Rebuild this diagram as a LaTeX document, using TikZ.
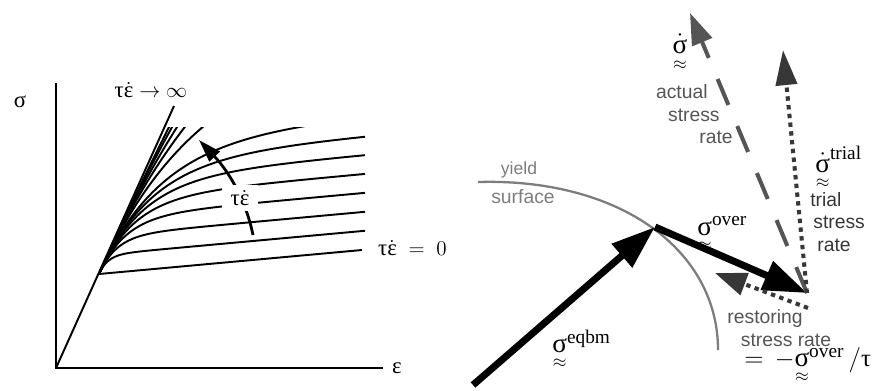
\documentclass[tikz,border=0pt]{standalone}
\usepackage{amsmath}
\usepackage{fontspec}
\setmainfont{Liberation Serif}
\setsansfont{Liberation Sans}
\usepackage{tikz}
\usetikzlibrary{arrows.meta, calc}
\definecolor{surfgray}{RGB}{125, 125, 125}
\definecolor{rategray}{RGB}{85, 85, 85}
\definecolor{trialgray}{RGB}{55, 55, 55}

\newcommand{\bigsig}{\mbox{\fontsize{15.5}{17}\selectfont σ}}
\newcommand{\tsig}{\underset{\approx}{\bigsig}}
\newcommand{\tsigdot}{\underset{\approx}{\dot{\bigsig}}}
\newcommand{\tedot}{\mbox{τ}\dot{\mbox{ε}}}
\newcommand{\upidx}[1]{\mbox{\fontsize{11}{13}\selectfont #1}}

\begin{document}
\begin{tikzpicture}[
    x=0.02cm, y=0.02cm,
    axis/.style={line width=1.1pt},
    curve/.style={line width=1.1pt},
    lbl/.style={font=\fontsize{13}{15}\selectfont, inner sep=1pt},
    mlbl/.style={font=\fontsize{14}{16}\selectfont, inner sep=0pt},
    rlbl/.style={font=\sffamily\fontsize{11}{13}\selectfont, inner sep=0pt},
    surfline/.style={surfgray, line width=1.3pt},
    bigarrow/.style={line width=4pt, -{Triangle[length=25pt, width=17pt]}},
    actualrate/.style={rategray, line width=2.3pt, dash pattern=on 16pt off 13pt,
                       -{Triangle[length=18pt, width=12pt]}},
    trialrate/.style={trialgray, line width=2.3pt, dash pattern=on 2.5pt off 2.5pt,
                      -{Triangle[length=20pt, width=12pt]}},
    restorerate/.style={trialgray, line width=2.3pt, dash pattern=on 2.5pt off 2.5pt,
                        -{Triangle[length=18pt, width=13pt]}}
]
\useasboundingbox (0,0) rectangle (875,390);

%% Left panel: axes and elastic line
\coordinate (origin)     at (56,22);
\coordinate (yaxtop)     at (56,307);
\coordinate (xaxend)     at (383,22);
\coordinate (elastictop) at (174,284);
\coordinate (yieldpt)    at (99,116);
\coordinate (baseend)    at (362,140);

\draw[axis] (yaxtop) -- (origin) -- (xaxend);
\draw[curve] (origin) -- (elastictop);
\draw[curve] (yieldpt) -- (baseend);

%% Rate-dependent curves
\begin{scope}
\clip (99,0) rectangle (400,263);
\foreach \r in {8.9,17.8,26.7,35.6,44.5,53.4,63,100,150,220,350,600}
  \draw[curve] plot[domain=0:266, samples=90, smooth]
    ({99+\x}, {116+0.0913*\x+2.13*\r*(1-exp(-\x/\r))});
\end{scope}

%% Increasing rate arrow
\coordinate (ratelow)  at (253,155);
\coordinate (ratehigh) at (199,250);
\draw[line width=1.6pt, -{Triangle[length=13pt, width=8pt]}]
  (ratelow) .. controls (247,185) and (232,215) .. (ratehigh);
\node[lbl, fill=white, inner xsep=5pt, inner ysep=3pt] (ratelbl) at (240,192) {$\tedot$};

%% Left labels
\node[lbl] (siglbl) at (20,288) {σ};
\node[lbl] (epslbl) at (397,22) {ε};
\node[lbl] (inflbl) at (151,300) {$\tedot \rightarrow \infty$};
\node[lbl, anchor=west] (zerolbl) at (376,142) {$\tedot\;=\;0$};

%% Right panel: yield surface
\coordinate (kink)      at (655,163);
\coordinate (eqtail)    at (473,5);
\coordinate (overtip)   at (807,97);
\coordinate (actualtip) at (690,377);
\coordinate (trialtip)  at (783,340);
\coordinate (restail)   at (808,82);
\coordinate (restip)    at (715,117);

\draw[surfline] (478,208) .. controls (620,212) and (718,140) .. (718,40);
\node[font=\sffamily\fontsize{10}{12}\selectfont, text=surfgray] (yieldlbl) at (519,220) {yield};
\node[font=\sffamily\fontsize{11}{13}\selectfont, text=surfgray] (surflbl) at (523,193) {surface};

%% Stress vectors
\draw[bigarrow] (eqtail) -- (kink);
\draw[bigarrow] (kink) -- (overtip);

%% Rate vectors
\draw[actualrate]  (overtip) -- (actualtip);
\draw[trialrate]   (overtip) -- (trialtip);
\draw[restorerate] (restail) -- (restip);

%% Right labels
\node[mlbl] (sdotlbl) at (680,337) {$\tsigdot$};
\node[rlbl, anchor=east, text=rategray] (actual1) at (708,298) {actual};
\node[rlbl, anchor=east, text=rategray] (actual2) at (720,275) {stress};
\node[rlbl, anchor=east, text=rategray] (actual3) at (733,253) {rate};

\node[mlbl, anchor=west] (triallbl) at (815,222) {${\tsigdot}^{\upidx{trial}}$};
\node[rlbl, anchor=west, text=trialgray] (trial1) at (810,190) {trial};
\node[rlbl, anchor=west, text=trialgray] (trial2) at (813,168) {stress};
\node[rlbl, anchor=west, text=trialgray] (trial3) at (817,145) {rate};

\node[mlbl, anchor=west] (overlbl) at (697,155) {${\tsig}^{\upidx{over}}$};
\node[mlbl, anchor=west] (eqlbl)   at (552,40)  {${\tsig}^{\upidx{eqbm}}$};

\node[rlbl, text=rategray] (rest1) at (765,72) {restoring};
\node[rlbl, text=rategray] (rest2) at (786,50) {stress rate};
\node[mlbl, anchor=west] (restlbl) at (744,24) {$=\,-{\tsig}^{\upidx{over}}\,/\mbox{τ}$};

\end{tikzpicture}
\end{document}
